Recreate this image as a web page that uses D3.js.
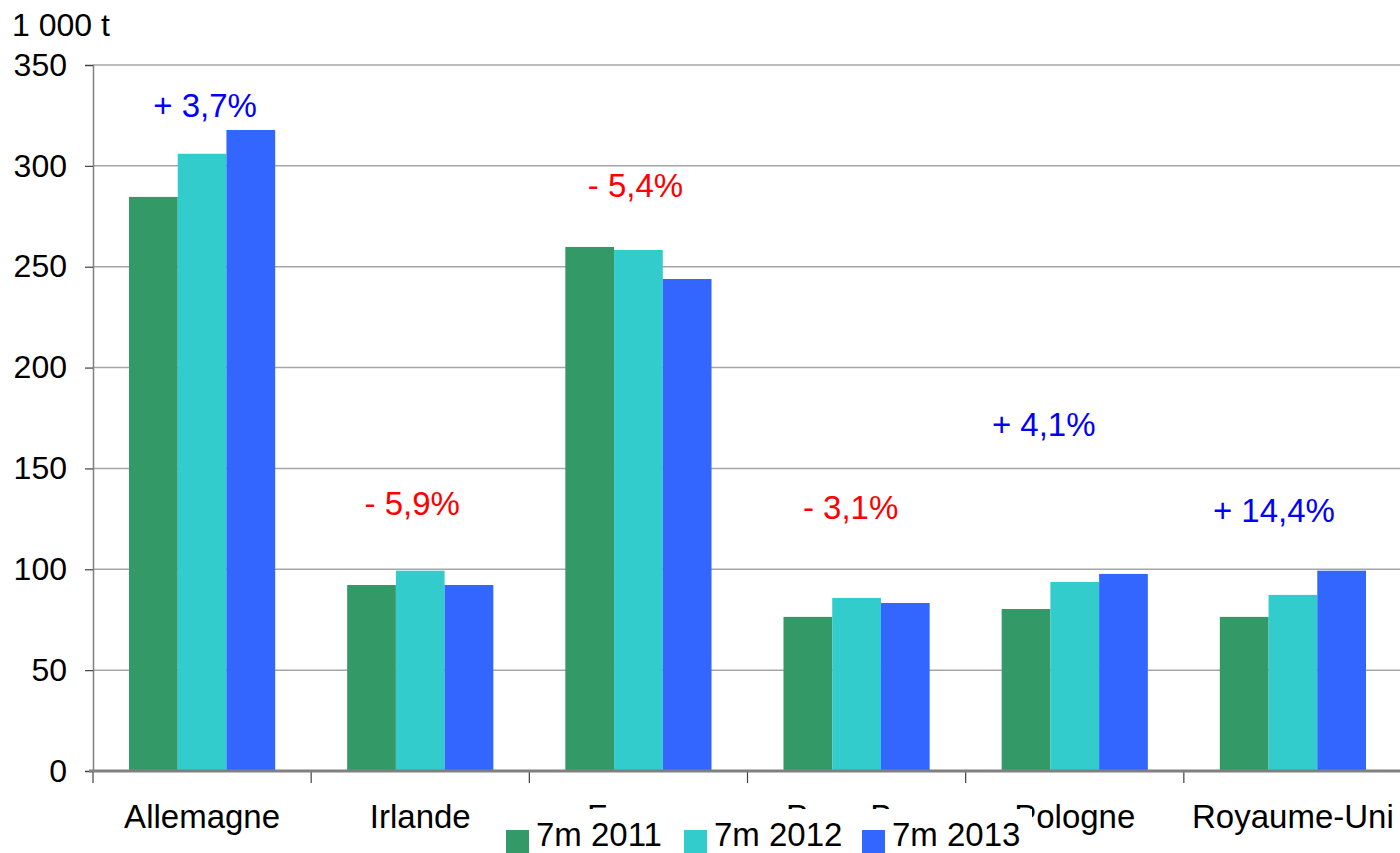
<!DOCTYPE html>
<html lang="fr">
<head>
<meta charset="utf-8">
<title>Chart</title>
<script src="https://cdn.jsdelivr.net/npm/d3@7"></script>
<style>
  body { margin: 0; background: #fff; }
  text { font-family: Arial, "Liberation Sans", sans-serif; }
</style>
</head>
<body>
<script>
var categories = ["Allemagne", "Irlande", "France", "Pays-Bas", "Pologne", "Royaume-Uni"];
var seriesNames = ["7m 2011", "7m 2012", "7m 2013"];
var v2011 = [284.6, 92.2, 259.8, 76.4, 80.3, 76.4];
var v2012 = [306.0, 99.3, 258.3, 85.8, 93.7, 87.3];
var v2013 = [317.8, 92.2, 243.9, 83.3, 97.7, 99.3];
var yTicks = [0, 50, 100, 150, 200, 250, 300, 350];
var changeLabels = ["+ 3,7%", "- 5,9%", "- 5,4%", "- 3,1%", "+ 4,1%", "+ 14,4%"];
var changeLevel = [324.4, 127, 284.6, 125, 166, 123.6];   // baseline height of the label, in 1000 t
var changeUp = [true, false, false, false, true, true];

var colors = ["#339966", "#33cccc", "#3366ff"];
var labelShift = [3, -8, -3, -6, -31, -19];

var width = 1400, height = 853;
var mLeft = 93, mRight = 1402, mTop = 65, mBottom = 771;

var svg = d3.select("body").append("svg").attr("width", width).attr("height", height);

var y = d3.scaleLinear().domain([0, 350]).range([mBottom, mTop]);
var x = d3.scaleBand().domain(categories).range([mLeft, mRight]).paddingInner(0.33).paddingOuter(0.165);
var x1 = d3.scaleBand().domain(seriesNames).range([0, x.bandwidth()]);

// grid
svg.append("g").selectAll("line").data(yTicks.filter(function (d) { return d > 0; })).enter().append("line")
  .attr("x1", mLeft).attr("x2", width).attr("y1", function (d) { return y(d); }).attr("y2", function (d) { return y(d); })
  .attr("stroke", "#a6a6a6").attr("stroke-width", 1.5);

// bars
var table = categories.map(function (c, i) { return { cat: c, vals: [v2011[i], v2012[i], v2013[i]] }; });
var groups = svg.append("g").selectAll("g").data(table).enter().append("g")
  .attr("transform", function (d) { return "translate(" + x(d.cat) + ",0)"; });
groups.selectAll("rect").data(function (d) { return d.vals.map(function (v, j) { return { s: seriesNames[j], v: v, j: j }; }); })
  .enter().append("rect")
  .attr("x", function (d) { return x1(d.s); }).attr("width", x1.bandwidth())
  .attr("y", function (d) { return y(d.v); }).attr("height", function (d) { return mBottom - y(d.v); })
  .attr("fill", function (d) { return colors[d.j]; });

// y axis
var yAxis = d3.axisLeft(y).tickValues(yTicks).tickSize(8).tickPadding(18);
var gy = svg.append("g").attr("transform", "translate(" + mLeft + ",0)").call(yAxis);
gy.select(".domain").attr("stroke", "#808080").attr("stroke-width", 1.5);
gy.selectAll(".tick line").attr("stroke", "#404040").attr("stroke-width", 1.2);
gy.selectAll(".tick text").attr("font-size", 32).attr("fill", "#000").attr("font-family", "Arial, 'Liberation Sans', sans-serif");

// x axis
var bounds = categories.map(function (c) { return x(c) - x.step() * x.paddingInner() / 2; });
bounds.push(mRight);
var xAxis = d3.axisBottom(x).tickSize(0).tickPadding(34);
var gx = svg.append("g").attr("transform", "translate(0," + mBottom + ")").call(xAxis);
gx.select(".domain").remove();
gx.selectAll(".tick text").attr("font-size", 33).attr("fill", "#000").attr("font-family", "Arial, 'Liberation Sans', sans-serif");
svg.append("g").selectAll("line").data(bounds).enter().append("line")
  .attr("x1", function (d) { return d; }).attr("x2", function (d) { return d; })
  .attr("y1", mBottom).attr("y2", mBottom + 12).attr("stroke", "#404040").attr("stroke-width", 1.2);
svg.append("line").attr("x1", mLeft - 4).attr("x2", width).attr("y1", mBottom).attr("y2", mBottom)
  .attr("stroke", "#808080").attr("stroke-width", 3);

// unit
svg.append("text").attr("x", 12).attr("y", 36).attr("font-size", 32).text("1 000 t");

// change labels
svg.append("g").selectAll("text").data(changeLabels).enter().append("text")
  .attr("x", function (d, i) { return x(categories[i]) + x.bandwidth() / 2 + labelShift[i]; })
  .attr("y", function (d, i) { return y(changeLevel[i]); })
  .attr("text-anchor", "middle").attr("font-size", 33)
  .attr("fill", function (d, i) { return changeUp[i] ? "#0000ff" : "#ff0000"; })
  .text(function (d) { return d; });

// legend
var lg = svg.append("g");
lg.append("rect").attr("x", 498).attr("y", 809).attr("width", 534).attr("height", 44).attr("fill", "#fff");
var items = lg.selectAll("g").data(seriesNames).enter().append("g")
  .attr("transform", function (d, i) { return "translate(" + (506 + i * 178) + ",0)"; });
items.append("rect").attr("x", 0).attr("y", 830).attr("width", 23).attr("height", 23)
  .attr("fill", function (d, i) { return colors[i]; });
items.append("text").attr("x", 30).attr("y", 846).attr("font-size", 33).text(function (d) { return d; });
</script>
</body>
</html>
